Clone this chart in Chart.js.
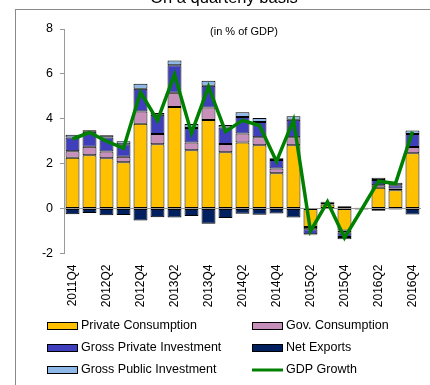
<!DOCTYPE html>
<html>
<head>
<meta charset="utf-8">
<script src="https://cdn.jsdelivr.net/npm/chart.js@4.4.1/dist/chart.umd.min.js"></script>
<style>
  html, body { margin: 0; padding: 0; background: #fff; }
  #wrap { position: relative; width: 430px; height: 385px; }
</style>
</head>
<body>
<div id="wrap"><canvas id="gdpChart" width="430" height="385"></canvas></div>
<script>
const quarters = [
  '2011Q4', '2012Q1', '2012Q2', '2012Q3', '2012Q4', '2013Q1', '2013Q2', '2013Q3',
  '2013Q4', '2014Q1', '2014Q2', '2014Q3', '2014Q4', '2015Q1', '2015Q2', '2015Q3',
  '2015Q4', '2016Q1', '2016Q2', '2016Q3', '2016Q4'
];
const privateConsumption = [2.26, 2.38, 2.24, 2.06, 3.78, 2.87, 4.53, 2.6, 3.95, 2.51, 2.94, 2.82, 1.58, 2.82, -0.82, 0.18, -0.97, 0.03, 0.93, 0.82, 2.47];
const govConsumption = [0.3, 0.37, 0.3, 0.25, 0.54, 0.45, 0.63, 0.34, 0.55, 0.37, 0.41, 0.36, 0.21, 0.36, -0.1, 0.02, -0.08, 0.01, 0.11, 0.08, 0.27];
const privateInvestment = [0.61, 0.67, 0.63, 0.56, 1.02, 0.86, 1.22, 0.65, 0.97, 0.73, 0.73, 0.68, 0.38, 0.78, -0.22, 0.06, -0.22, 0, 0.23, 0.14, 0.58];
const netExports = [-0.25, -0.2, -0.3, -0.29, -0.53, -0.39, -0.4, -0.33, -0.67, -0.42, -0.23, -0.27, -0.22, -0.4, -0.02, 0.04, 0.1, -0.04, -0.1, -0.04, -0.26];
const publicInvestment = [0.12, 0.07, 0.1, 0.13, 0.22, 0.08, 0.22, 0.18, 0.23, 0.11, 0.21, 0.18, 0.07, 0.15, -0.03, 0, -0.1, 0, 0.1, 0.11, 0.16];
const gdpGrowth = [3.1, 3.39, 3.0, 2.69, 5.18, 3.93, 5.98, 3.36, 5.43, 3.43, 3.93, 3.7, 2.1, 3.95, -1.0, 0.3, -1.3, -0.05, 1.22, 1.12, 3.43];
const yTicks = [-2, 0, 2, 4, 6, 8];

const FONT = '"Liberation Sans", Arial, sans-serif';
Chart.defaults.font.family = FONT;
Chart.defaults.color = '#000';

const barSet = (label, data, color) => ({
  type: 'bar',
  label,
  data,
  backgroundColor: color,
  borderColor: '#000',
  borderWidth: 1,
  borderSkipped: false,
  stack: 'parts',
  order: 1,
  barPercentage: 0.82,
  categoryPercentage: 1
});

// frame, heading and the note inside the plot
const framePlugin = {
  id: 'frame',
  beforeDraw(chart) {
    const c = chart.ctx;
    c.save();
    c.strokeStyle = '#8a8a8a';
    c.lineWidth = 1;
    c.strokeRect(15.5, 9.5, 600, 600);
    c.fillStyle = '#000';
    c.font = '16.5px ' + FONT;
    c.textAlign = 'center';
    c.textBaseline = 'alphabetic';
    c.fillText('On a quarterly basis', 224, 2.5);
    c.font = '11px ' + FONT;
    c.textBaseline = 'middle';
    c.fillText('(in % of GDP)', 244, 32);
    c.restore();
  }
};

// two-column legend under the axis labels
const legendPlugin = {
  id: 'twoColLegend',
  afterDraw(chart) {
    const c = chart.ctx;
    const order = [0, 1, 2, 3, 4, 5];
    const cols = [47, 252];
    const rows = [326, 348, 370];
    c.save();
    c.font = '12.5px ' + FONT;
    c.textBaseline = 'middle';
    c.textAlign = 'left';
    order.forEach((dsIndex, i) => {
      const ds = chart.data.datasets[dsIndex];
      const x = cols[i % 2];
      const y = rows[Math.floor(i / 2)];
      if (ds.type === 'line') {
        c.strokeStyle = ds.borderColor;
        c.lineWidth = 3;
        c.beginPath();
        c.moveTo(x, y);
        c.lineTo(x + 31, y);
        c.stroke();
      } else {
        c.fillStyle = ds.backgroundColor;
        c.fillRect(x, y - 3, 31, 6);
        c.strokeStyle = '#000';
        c.lineWidth = 1;
        c.strokeRect(x + 0.5, y - 3.5, 30, 7);
      }
      c.fillStyle = '#000';
      c.fillText(ds.label, x + 34, y);
    });
    c.restore();
  }
};

const ctx = document.getElementById('gdpChart').getContext('2d');

new Chart(ctx, {
  data: {
    labels: quarters,
    datasets: [
      barSet('Private Consumption', privateConsumption, '#FFC000'),
      barSet('Gov. Consumption', govConsumption, '#C690BA'),
      barSet('Gross Private Investment', privateInvestment, '#3F3FBD'),
      barSet('Net Exports', netExports, '#002060'),
      barSet('Gross Public Investment', publicInvestment, '#8DB8E8'),
      {
        type: 'line',
        label: 'GDP Growth',
        data: gdpGrowth,
        borderColor: '#008000',
        backgroundColor: '#008000',
        borderWidth: 3.5,
        pointRadius: 0,
        tension: 0,
        stack: 'gdp',
        order: 0
      }
    ]
  },
  options: {
    responsive: false,
    animation: false,
    layout: { padding: { top: 29, left: 0, right: 5, bottom: 71.5 } },
    scales: {
      x: {
        stacked: true,
        grid: { display: false },
        border: { display: false },
        afterFit: (scale) => { scale.height = 60; },
        ticks: {
          autoSkip: false,
          minRotation: 90,
          maxRotation: 90,
          padding: 3,
          font: { size: 12 },
          callback: (value, index) => (index % 2 === 0 ? quarters[index] : '')
        }
      },
      y: {
        stacked: true,
        min: yTicks[0],
        max: yTicks[yTicks.length - 1],
        afterFit: (scale) => { scale.width = 64; },
        afterBuildTicks: (scale) => { scale.ticks = yTicks.map((v) => ({ value: v })); },
        border: { display: true, color: '#999', width: 1 },
        grid: {
          color: (c) => (c.tick && c.tick.value === 0 ? '#999' : 'rgba(0,0,0,0)'),
          tickColor: '#999',
          tickLength: 4,
          lineWidth: 1
        },
        ticks: { padding: 7, font: { size: 12.5 } }
      }
    },
    plugins: {
      legend: { display: false },
      tooltip: { enabled: false }
    }
  },
  plugins: [framePlugin, legendPlugin]
});
</script>
</body>
</html>
